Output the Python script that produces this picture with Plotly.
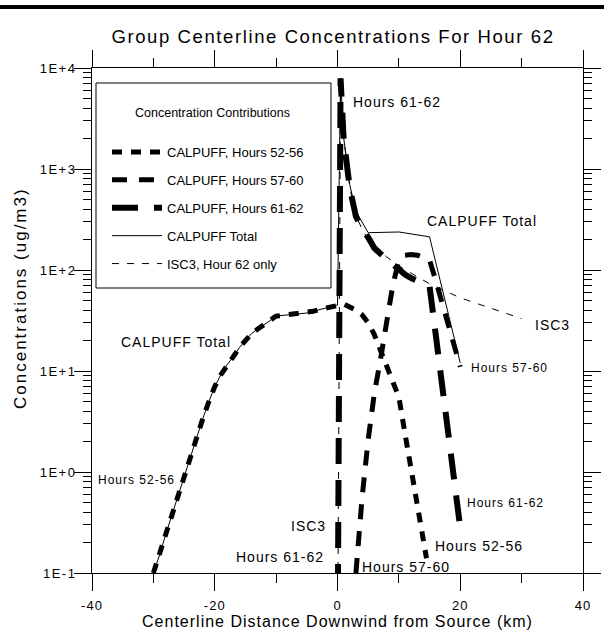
import plotly.graph_objects as go

# ---------------- data ----------------
x_52_56 = [-30, -29, -28, -27, -26, -25, -24, -23, -22, -21, -20, -19, -18, -17, -16,
           -15, -14, -13, -12, -11, -10, -9, -8, -7, -6, -5, -4, -3, -2, -1, 0,
           1, 2, 3, 4, 5, 6, 7, 8, 9, 10, 11, 12, 13, 14, 14.5]
y_52_56 = [0.10, 0.15, 0.24, 0.37, 0.58, 0.92, 1.42, 2.1, 3.3, 4.9, 7.0, 9.2, 11.5, 13.8, 17,
           20, 23.5, 26, 28.5, 31.5, 35, 35.5, 36, 36.5, 37, 37.5, 39, 40.5, 42, 43.5, 45,
           46, 43, 40, 36, 30, 23, 16, 11, 7.8, 5.5, 2.4, 1.06, 0.52, 0.22, 0.14]

x_57_60 = [3, 4, 5, 6, 7, 8, 9, 10, 11, 12, 13, 14, 15, 16, 17, 18, 19, 20]
y_57_60 = [0.10, 0.55, 2.1, 6.0, 13, 32, 70, 125, 140, 142, 140, 133, 125, 79, 47, 29, 17, 11]

x_61_62 = [0, 0.5, 1, 2, 3, 4, 5, 6, 7, 8, 9, 10, 11, 12, 13, 14, 15, 16, 17, 18, 19, 20]
y_61_62 = [0.01, 7900, 2000, 650, 340, 255, 210, 165, 145, 128, 113, 100, 90, 83, 78, 74, 69,
           23, 7.6, 2.6, 0.83, 0.28]

x_total = [-30, -29, -28, -27, -26, -25, -24, -23, -22, -21, -20, -19, -18, -17, -16,
           -15, -14, -13, -12, -11, -10, -9, -8, -7, -6, -5, -4, -3, -2, -1, 0,
           0.5, 1, 2, 3, 5, 10, 15, 20]
y_total = [0.10, 0.15, 0.24, 0.37, 0.58, 0.92, 1.42, 2.1, 3.3, 4.9, 7.0, 9.2, 11.5, 13.8, 17,
           20, 23.5, 26, 28.5, 31.5, 35, 35.5, 36, 36.5, 37, 37.5, 39, 40.5, 42, 43.5, 45,
           7950, 2050, 700, 380, 234, 238, 213, 12]

x_isc3 = [0, 0.5, 1, 2, 3, 4, 5, 6, 8, 10, 12, 15, 20, 25, 30]
y_isc3 = [0.01, 7500, 2100, 660, 345, 255, 200, 170, 135, 110, 93, 73, 53, 42, 33]

x_tick_vals = [-40, -20, 0, 20, 40]
x_tick_text = ["-40", "-20", "0", "20", "40"]
y_tick_vals = [0.1, 1, 10, 100, 1000, 10000]
y_tick_text = ["1E-1", "1E+0", "1E+1", "1E+2", "1E+3", "1E+4"]

FONT = "Liberation Sans, Arial, sans-serif"

# plot-area geometry in pixels (used only for layout placement)
L, R, T, B = 92, 583, 68, 573
W, H = R - L, B - T


def px_x(px):
    return (px - L) / W


def px_y(py):
    return (B - py) / H


def sp(text, ls):
    return '<span style="letter-spacing:%spx">%s</span>' % (ls, text)


fig = go.Figure()

fig.add_trace(go.Scatter(x=x_52_56, y=y_52_56, mode="lines", name="CALPUFF, Hours 52-56",
                         legendgroup="a",
                         line=dict(color="black", width=5, dash="10px,9px")))
fig.add_trace(go.Scatter(x=x_57_60, y=y_57_60, mode="lines", name="CALPUFF, Hours 57-60",
                         legendgroup="b",
                         line=dict(color="black", width=5, dash="15px,12px")))
fig.add_trace(go.Scatter(x=x_61_62, y=y_61_62, mode="lines", name="CALPUFF, Hours 61-62",
                         legendgroup="c",
                         line=dict(color="black", width=6, dash="26px,16px")))
fig.add_trace(go.Scatter(x=x_total, y=y_total, mode="lines", name="CALPUFF Total",
                         legendgroup="d",
                         line=dict(color="black", width=1)))
fig.add_trace(go.Scatter(x=x_isc3, y=y_isc3, mode="lines", name="ISC3, Hour 62 only",
                         legendgroup="e",
                         line=dict(color="black", width=1, dash="7px,8px")))

# ---------------- labels on the chart ----------------
labels = [
    # text, x, log10(y), anchor, size
    ("Hours 61-62", 2.2, 3.66, "left", 14),
    ("CALPUFF Total", 14.3, 2.485, "left", 14),
    ("ISC3", 31.8, 1.455, "left", 14),
    ("Hours 57-60", 21.4, 1.03, "left", 12),
    ("CALPUFF Total", -35.6, 1.287, "left", 14),
    ("Hours 52-56", -39.4, -0.079, "left", 12),
    ("Hours 61-62", 20.8, -0.307, "left", 12),
    ("Hours 52-56", 15.6, -0.733, "left", 14),
    ("Hours 57-60", 3.7, -0.94, "left", 14),
    ("ISC3", -1.6, -0.535, "right", 14),
    ("Hours 61-62", -1.9, -0.84, "right", 14),
]
annotations = []
for txt, lx, ly, anc, size in labels:
    annotations.append(dict(x=lx, y=ly, xref="x", yref="y", text=sp(txt, 1),
                            showarrow=False, xanchor=anc, yanchor="middle",
                            font=dict(family=FONT, size=size, color="black")))

# y-axis title as rotated text
annotations.append(dict(x=px_x(20), y=px_y(298), xref="paper", yref="paper",
                        text=sp("Concentrations (ug/m3)", 2), textangle=-90,
                        showarrow=False, xanchor="center", yanchor="middle",
                        font=dict(family=FONT, size=17, color="black")))
# legend heading
annotations.append(dict(x=px_x(212), y=px_y(113), xref="paper", yref="paper",
                        text="Concentration Contributions", showarrow=False,
                        xanchor="center", yanchor="middle",
                        font=dict(family=FONT, size=12.5, color="black")))

fig.update_layout(
    width=604, height=634, autosize=False,
    margin=dict(l=L, r=604 - R, t=T, b=634 - B),
    paper_bgcolor="white", plot_bgcolor="white",
    font=dict(family=FONT, color="black"),
    title=dict(text=sp("Group Centerline Concentrations For Hour 62", 1.6),
               x=px_x(333), xref="paper", xanchor="center", y=1 - 37 / 634, yref="container",
               yanchor="middle", font=dict(family=FONT, size=18.5, color="black"),
               automargin=False),
    showlegend=True,
    legend=dict(x=px_x(107), y=px_y(137), xanchor="left", yanchor="top",
                bgcolor="rgba(0,0,0,0)", borderwidth=0,
                font=dict(family=FONT, size=13, color="black"),
                tracegroupgap=8, itemwidth=50, traceorder="grouped"),
    annotations=annotations,
    shapes=[
        dict(type="rect", xref="paper", yref="paper",
             x0=px_x(0), x1=px_x(604), y0=px_y(9), y1=px_y(5),
             fillcolor="black", line=dict(width=0), layer="above"),
        dict(type="rect", xref="paper", yref="paper",
             x0=px_x(96), x1=px_x(331), y0=px_y(288), y1=px_y(83),
             fillcolor="white", line=dict(color="black", width=1), layer="above"),
    ],
)

fig.update_xaxes(
    range=[-40, 40], tickmode="array", tickvals=x_tick_vals,
    ticktext=[sp(t, 1) for t in x_tick_text],
    ticks="outside", ticklen=17, tickwidth=1, tickcolor="black",
    minor=dict(dtick=10, tick0=-40, ticks="outside", ticklen=9, tickwidth=1,
               tickcolor="black", showgrid=False),
    showline=True, linecolor="black", linewidth=1, mirror="allticks",
    showgrid=False, zeroline=False, automargin=False,
    tickfont=dict(family=FONT, size=13, color="black"), ticklabelstandoff=3,
    title=dict(text=sp("Centerline Distance Downwind from Source (km)", 1),
               font=dict(family=FONT, size=16, color="black"), standoff=0),
)
fig.update_yaxes(
    type="log", range=[-1, 4], tickmode="array", tickvals=y_tick_vals,
    ticktext=[sp(t, 1.5) for t in y_tick_text],
    ticks="outside", ticklen=17, tickwidth=1, tickcolor="black",
    minor=dict(dtick="D1", ticks="outside", ticklen=8, tickwidth=1,
               tickcolor="black", showgrid=False),
    showline=True, linecolor="black", linewidth=1, mirror="allticks",
    showgrid=False, zeroline=False, automargin=False,
    tickfont=dict(family=FONT, size=13, color="black"), ticklabelstandoff=-5,
)

fig.write_html("out.html",
               config={"displayModeBar": False},
               post_script="document.body.style.margin='0';"
                           "document.body.style.overflow='hidden';")
